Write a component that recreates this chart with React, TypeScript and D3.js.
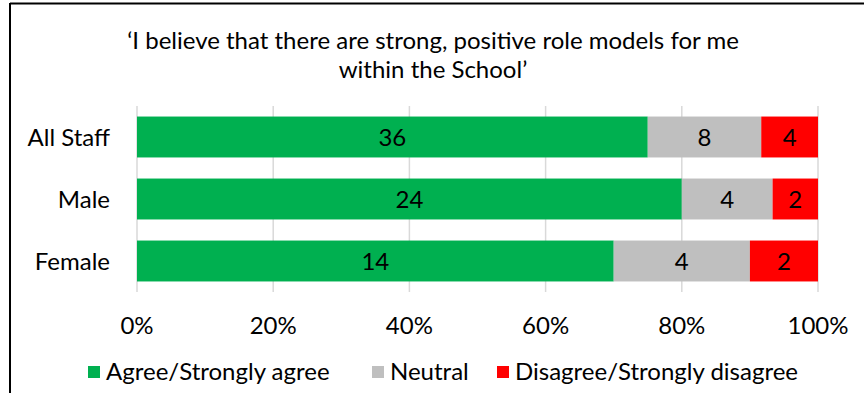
import React from "react";
import * as d3 from "d3";

const categories = ["All Staff", "Male", "Female"];
const seriesNames = ["Agree/Strongly agree", "Neutral", "Disagree/Strongly disagree"];
const agree = [36, 24, 14];
const neutral = [8, 4, 4];
const disagree = [4, 2, 2];
const tickValues = [0, 0.2, 0.4, 0.6, 0.8, 1.0];
const colors = ["#00B050", "#BFBFBF", "#FF0000"];
const titleLines = ["‘I believe that there are strong, positive role models for me", "within the School’"];

const W = 864;
const H = 393;
const FONT = "Lato, 'Open Sans', sans-serif";
const FS = 24;
const HALF_CAP = 8.6;

export default function App() {
  const x = d3.scaleLinear().domain([0, 1]).range([137, 818]);
  const y = d3.scaleBand<string>().domain(categories).range([106, 292]).paddingInner(0.34).paddingOuter(0.17);

  const rows = categories.map((c, i) => {
    const vals = [agree[i], neutral[i], disagree[i]];
    const total = d3.sum(vals);
    let acc = 0;
    return {
      cat: c,
      segs: vals.map((v, j) => {
        const s = { v, j, x0: acc / total, x1: (acc + v) / total };
        acc += v;
        return s;
      }),
    };
  });

  const fmt = d3.format(".0%");
  const legendX = [88, 372, 497];

  return (
    <svg width={W} height={H} style={{ position: "fixed", left: 0, top: 0, background: "#fff" }} fontFamily={FONT}>
      <rect x={0} y={0} width={W} height={H} fill="#fff" />
      <line x1={10} x2={W} y1={3.5} y2={3.5} stroke="#000" strokeWidth={2} />
      <line x1={10} x2={10} y1={3} y2={H} stroke="#000" strokeWidth={2} />

      {titleLines.map((t, i) => (
        <text key={i} x={433} y={49 + i * 29} textAnchor="middle" fontSize={FS} fill="#000">
          {t}
        </text>
      ))}

      {tickValues.map((t) => (
        <line key={t} x1={x(t)} x2={x(t)} y1={106} y2={292} stroke="#D9D9D9" strokeWidth={1.5} />
      ))}

      {rows.map((r) => (
        <g key={r.cat}>
          {r.segs.map((s) => (
            <g key={s.j}>
              <rect
                x={x(s.x0)}
                y={y(r.cat)!}
                width={x(s.x1) - x(s.x0)}
                height={y.bandwidth()}
                fill={colors[s.j]}
              />
              <text
                x={(x(s.x0) + x(s.x1)) / 2}
                y={y(r.cat)! + y.bandwidth() / 2 + HALF_CAP}
                textAnchor="middle"
                fontSize={FS}
                fill="#000"
              >
                {s.v}
              </text>
            </g>
          ))}
          <text x={110} y={y(r.cat)! + y.bandwidth() / 2 + HALF_CAP} textAnchor="end" fontSize={FS} fill="#000">
            {r.cat}
          </text>
        </g>
      ))}

      {tickValues.map((t) => (
        <text key={"l" + t} x={x(t)} y={334} textAnchor="middle" fontSize={FS} fill="#000">
          {fmt(t)}
        </text>
      ))}

      {seriesNames.map((n, i) => (
        <g key={n}>
          <rect x={legendX[i]} y={366} width={12} height={12} fill={colors[i]} />
          <text x={legendX[i] + 18} y={380} fontSize={FS} fill="#000">
            {n}
          </text>
        </g>
      ))}
    </svg>
  );
}
